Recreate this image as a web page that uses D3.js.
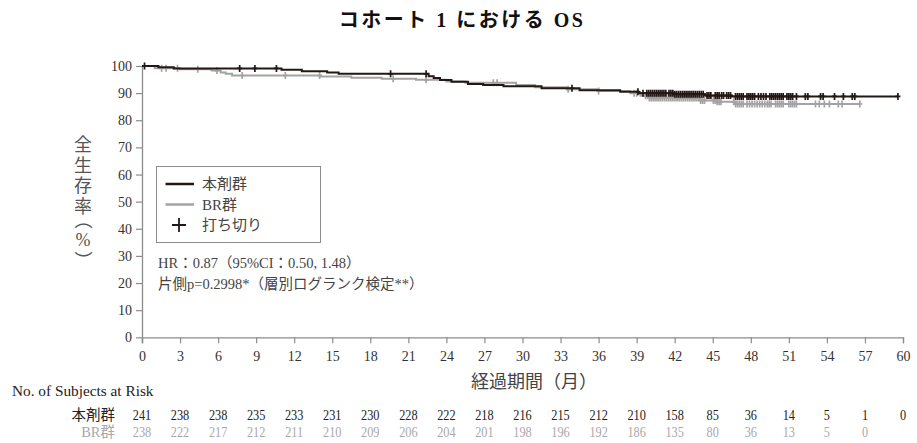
<!DOCTYPE html>
<html>
<head>
<meta charset="utf-8">
<script src="https://cdn.jsdelivr.net/npm/d3@7"></script>
<style>
  html, body { margin: 0; padding: 0; background: #fff; }
  svg { display: block; }
  text { font-family: "Liberation Serif", "Noto Sans CJK JP", serif; }
</style>
</head>
<body>
<svg id="chart" width="917" height="443"></svg>
<script>
// Kaplan–Meier step data: [month, survival %]
const armA = [
  [0, 100], [1.3, 99.5], [2.5, 99.1], [11.0, 98.6], [12.6, 98.1], [14.6, 97.6],
  [15.5, 97.1], [22.6, 96.2], [23.0, 95.6], [23.5, 94.8], [24.4, 94.2], [25.7, 93.4],
  [26.9, 93.0], [28.5, 92.5], [31.5, 91.8], [34.5, 91.1], [37.7, 90.5], [39.2, 90.0],
  [42.0, 89.6], [44.4, 89.1], [46.5, 88.8], [59.6, 88.8]
];
const armB = [
  [0, 100], [1.0, 99.2], [3.0, 98.8], [5.5, 98.3], [6.2, 97.6], [6.6, 97.1],
  [7.1, 96.5], [14.1, 96.1], [16.5, 95.7], [18.9, 95.3], [21.6, 94.9], [24.0, 94.3],
  [25.5, 93.8], [29.5, 93.0], [31.0, 92.2], [33.5, 91.4], [36.0, 90.8], [38.5, 90.0],
  [39.3, 89.0], [40.0, 88.2], [44.0, 87.3], [45.3, 86.8], [46.8, 86.0], [56.6, 86.0]
];

// Censoring times (months)
const censorA = [
  0.2, 7.7, 8.9, 10.6, 19.6, 22.4, 33.9, 39.1, 39.5,
  39.8, 39.95, 40.1, 40.25, 40.4, 40.55, 40.7, 40.85, 41.0, 41.15, 41.3,
  41.55, 41.7, 41.85, 42.0, 42.15, 42.3, 42.45, 42.6, 42.75, 42.9, 43.05, 43.2,
  43.35, 43.5, 43.65, 43.8, 43.95, 44.1, 44.25,
  44.55, 44.7, 44.85, 45.2, 45.35, 45.5, 45.7, 45.85, 46.1, 46.25, 46.4,
  46.8, 46.95, 47.1, 47.25, 47.4, 47.7, 47.85, 48.0, 48.15, 48.3, 48.6, 48.8,
  49.0, 49.2, 49.5, 49.65, 49.8, 49.95, 50.1, 50.25, 50.4, 50.55,
  50.85, 51.0, 51.15, 51.3, 51.6,
  52.3, 52.5, 53.5, 53.7, 54.6, 55.3, 56.0, 56.2, 59.6
];
const censorB = [
  1.55, 1.9, 2.8, 4.4, 5.9, 7.9, 11.3, 14.0, 19.8, 22.4, 27.7, 28.0, 33.6, 36.0,
  38.8, 39.0,
  39.7, 39.85, 40.0, 40.15, 40.3, 40.45, 40.6, 40.75, 40.9, 41.05, 41.2, 41.35,
  41.5, 41.65, 41.8, 41.95, 42.1, 42.25, 42.4, 42.55, 42.7, 42.85, 43.0, 43.15,
  43.3, 43.45, 43.6, 43.75, 43.9, 44.05, 44.2, 44.35,
  45.05, 45.2, 45.35, 45.5, 45.65, 46.65, 46.8, 46.95, 47.1, 47.25, 47.4,
  47.7, 47.9, 48.1, 48.3, 48.5, 48.7, 48.9, 49.1, 49.3, 49.45, 49.6,
  49.95, 50.1, 50.25, 50.4, 50.55, 51.0, 51.15, 51.3, 51.45, 51.6,
  53.1, 53.4, 53.8, 54.2, 54.9, 55.2, 56.6
];

const xTicks = d3.range(0, 61, 3);
const yTicks = d3.range(0, 101, 10);
const riskA = [241, 238, 238, 235, 233, 231, 230, 228, 222, 218, 216, 215, 212, 210, 158, 85, 36, 14, 5, 1, 0];
const riskB = [238, 222, 217, 212, 211, 210, 209, 206, 204, 201, 198, 196, 192, 186, 135, 80, 36, 13, 5, 0];

const groupNames = ["本剤群", "BR群"];
const censorLabel = "打ち切り";
const titleText = "コホート 1 における OS";
const yTitle = "全生存率（%）";
const xTitle = "経過期間（月）";
const riskTitle = "No. of Subjects at Risk";
const statLines = ["HR：0.87（95%CI：0.50, 1.48）", "片側p=0.2998*（層別ログランク検定**）"];

const colorA = "#231815";
const colorB = "#a3a3a3";
const axisColor = "#8c8c8c";
const textColor = "#333";

const svg = d3.select("#chart");
const x = d3.scaleLinear().domain([0, 60]).range([142, 903]);
const y = d3.scaleLinear().domain([0, 100]).range([337.3, 66]);

// Title
svg.append("text")
  .attr("x", 462).attr("y", 27)
  .attr("text-anchor", "middle")
  .attr("font-size", 20).attr("font-weight", "bold")
  .attr("letter-spacing", 2.5)
  .attr("fill", "#111")
  .text(titleText);

// Axes
const yAxis = svg.append("g")
  .attr("transform", `translate(${x(0)},0)`)
  .call(d3.axisLeft(y).tickValues(yTicks).tickSize(6).tickPadding(4));
const xAxis = svg.append("g")
  .attr("transform", `translate(0,${y(0)})`)
  .call(d3.axisBottom(x).tickValues(xTicks).tickSize(6).tickPadding(8));

[yAxis, xAxis].forEach(g => {
  g.select(".domain").attr("stroke", axisColor).attr("stroke-width", 1.3);
  g.selectAll(".tick line").attr("stroke", axisColor).attr("stroke-width", 1.2);
  g.selectAll(".tick text")
    .attr("fill", textColor)
    .attr("font-size", 14)
    .attr("font-family", "Liberation Serif, serif");
});
yAxis.select(".domain").attr("d", `M0.5,${y(0) + 6}V${y(100)}`);

// Vertical y-axis title, set one character at a time; brackets turned 90°
const yTitleG = svg.append("g").attr("fill", "#555");
let cursor = 135;
Array.from(yTitle).forEach(ch => {
  const isParen = ch === "（" || ch === "）";
  const adv = isParen ? 16 : (ch === "%" ? 14 : 20.5);
  const nudge = ch === "（" ? -5 : (ch === "）" ? 5 : 0);
  const cy = cursor + adv / 2 + nudge;
  yTitleG.append("text")
    .attr("transform", `translate(83,${cy})` + (isParen ? " rotate(90)" : ""))
    .attr("text-anchor", "middle")
    .attr("dominant-baseline", "central")
    .attr("font-size", 18)
    .attr("font-family", ch === "%" ? "Liberation Serif, serif" : "Noto Sans CJK JP, sans-serif")
    .text(ch);
  cursor += adv;
});

svg.append("text")
  .attr("x", 534).attr("y", 388)
  .attr("text-anchor", "middle")
  .attr("font-size", 18)
  .attr("fill", "#444")
  .text(xTitle);

// Survival curves
const step = d3.line()
  .x(d => x(d[0]))
  .y(d => y(d[1]))
  .curve(d3.curveStepAfter);

function survAt(curve, t) {
  let v = curve[0][1];
  for (const d of curve) { if (d[0] <= t) v = d[1]; else break; }
  return v;
}

function drawArm(curve, censors, color) {
  const g = svg.append("g");
  g.append("path")
    .datum(curve)
    .attr("d", step)
    .attr("fill", "none")
    .attr("stroke", color)
    .attr("stroke-width", 2);
  g.selectAll("path.cens")
    .data(censors)
    .join("path")
    .attr("class", "cens")
    .attr("d", t => {
      const cx = x(t), cy = y(survAt(curve, t));
      return `M${cx},${cy - 3.5}V${cy + 3.5}M${cx - 2.5},${cy}H${cx + 2.5}`;
    })
    .attr("stroke", color)
    .attr("stroke-width", 1.7);
}

drawArm(armB, censorB, colorB);
drawArm(armA, censorA, colorA);

// Legend
const lg = svg.append("g");
lg.append("rect")
  .attr("x", 156.5).attr("y", 166.5)
  .attr("width", 164).attr("height", 76)
  .attr("fill", "#fff")
  .attr("stroke", "#8c8c8c").attr("stroke-width", 1);
const legendRows = [
  { name: groupNames[0], color: colorA, type: "line", cy: 184 },
  { name: groupNames[1], color: colorB, type: "line", cy: 204.5 },
  { name: censorLabel, color: colorA, type: "cross", cy: 225 }
];
legendRows.forEach(r => {
  if (r.type === "line") {
    lg.append("line")
      .attr("x1", 165.5).attr("x2", 194)
      .attr("y1", r.cy).attr("y2", r.cy)
      .attr("stroke", r.color).attr("stroke-width", 2.5);
  } else {
    lg.append("path")
      .attr("d", `M179,${r.cy - 7}V${r.cy + 7}M172,${r.cy}H186`)
      .attr("stroke", r.color).attr("stroke-width", 1.8);
  }
  lg.append("text")
    .attr("x", 202).attr("y", r.cy + 5)
    .attr("font-size", 15)
    .attr("fill", "#444")
    .text(r.name);
});

// Statistics annotation
statLines.forEach((s, i) => {
  svg.append("text")
    .attr("x", 158).attr("y", 268 + i * 20.5)
    .attr("font-size", 14.5)
    .attr("fill", "#444")
    .text(s);
});

// Number at risk table
svg.append("text")
  .attr("x", 12).attr("y", 396)
  .attr("font-size", 15.3)
  .attr("fill", "#222")
  .text(riskTitle);

const riskRows = [
  { label: groupNames[0], values: riskA, color: "#222", yb: 420 },
  { label: groupNames[1], values: riskB, color: "#a8a8a8", yb: 437 }
];
riskRows.forEach(r => {
  svg.append("text")
    .attr("x", 115).attr("y", r.yb)
    .attr("text-anchor", "end")
    .attr("font-size", 14.5)
    .attr("fill", r.color)
    .text(r.label);
  svg.append("g")
    .selectAll("text")
    .data(r.values)
    .join("text")
    .attr("transform", (d, i) => `translate(${x(xTicks[i])},${r.yb}) scale(0.82,1)`)
    .attr("text-anchor", "middle")
    .attr("font-size", 15)
    .attr("fill", r.color)
    .text(d => d);
});
</script>
</body>
</html>
